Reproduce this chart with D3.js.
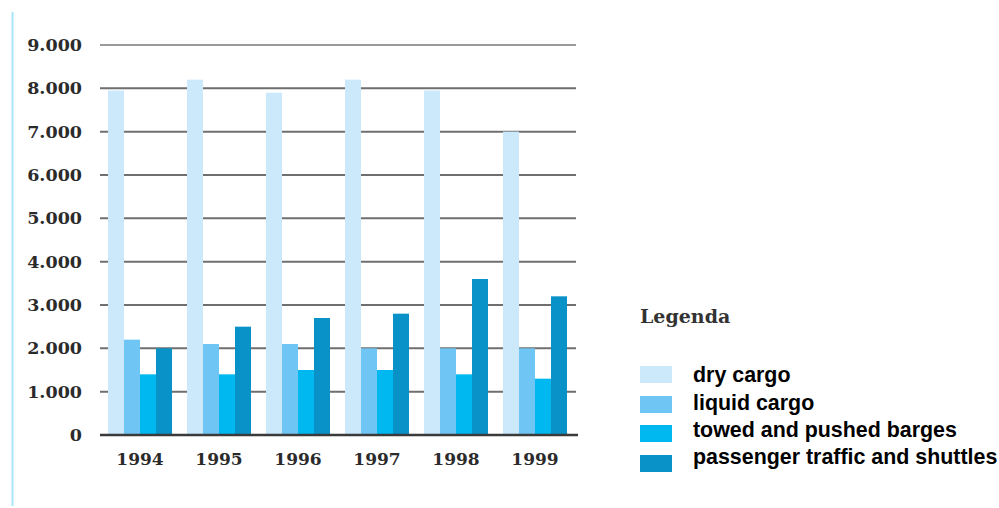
<!DOCTYPE html>
<html>
<head>
<meta charset="utf-8">
<script src="https://cdn.jsdelivr.net/npm/d3@7/dist/d3.min.js"></script>
<style>
  html, body { margin: 0; padding: 0; background: #fff; }
  svg { display: block; }
</style>
</head>
<body>
<svg id="chart" width="999" height="508"></svg>
<script>
// Inland navigation fleet by vessel type, 1994–1999
const years = ["1994", "1995", "1996", "1997", "1998", "1999"];
const seriesNames = ["dry cargo", "liquid cargo", "towed and pushed barges", "passenger traffic and shuttles"];
const dryCargo = [7950, 8200, 7900, 8200, 7950, 7000];
const liquidCargo = [2200, 2100, 2100, 2000, 2000, 2000];
const towedBarges = [1400, 1400, 1500, 1500, 1400, 1300];
const passengerTraffic = [2000, 2500, 2700, 2800, 3600, 3200];
const yTicks = [0, 1000, 2000, 3000, 4000, 5000, 6000, 7000, 8000, 9000];
const colors = ["#cbe9fb", "#6fc6f4", "#00b8f0", "#0892c8"];

const seriesValues = [dryCargo, liquidCargo, towedBarges, passengerTraffic];
const rows = years.map((yr, i) => ({ year: yr, values: seriesValues.map(s => s[i]) }));

const svg = d3.select("#chart");

// thin cyan rule along the left edge
svg.append("line")
  .attr("x1", 12.5).attr("x2", 12.5)
  .attr("y1", 12).attr("y2", 506)
  .attr("stroke", "#a9e6f7").attr("stroke-width", 2);

const plot = { left: 100, right: 576, top: 45, bottom: 435 };

const y = d3.scaleLinear().domain([0, 9000]).range([plot.bottom, plot.top]);
const groupStep = 79, groupGap = 15;
const x0 = d3.scaleBand().domain(years)
  .range([plot.left + 8, plot.left + 8 + groupStep * years.length - groupGap])
  .paddingInner(groupGap / groupStep).paddingOuter(0).align(0);
const x1 = d3.scaleBand().domain(d3.range(4)).range([0, x0.bandwidth()]).padding(0);

const fmt = v => d3.format(",")(v).replace(/,/g, ".");

// gridlines
svg.append("g")
  .selectAll("line")
  .data(yTicks.filter(t => t > 0))
  .join("line")
  .attr("x1", plot.left).attr("x2", plot.right)
  .attr("y1", d => y(d)).attr("y2", d => y(d))
  .attr("stroke", d => d === 9000 ? "#9a9a9a" : "#6f6f6f").attr("stroke-width", 2);

// y tick labels
const yAxis = d3.axisLeft(y).tickValues(yTicks).tickFormat(fmt).tickSize(0).tickPadding(0);
const yg = svg.append("g").attr("transform", `translate(${plot.left - 18},0)`).call(yAxis);
yg.select(".domain").remove();
yg.selectAll("text")
  .attr("font-family", "'DejaVu Serif', 'Liberation Serif', serif")
  .attr("font-weight", "bold")
  .attr("font-size", 17.5)
  .attr("fill", "#2b2b2b");

// bars
svg.append("g")
  .selectAll("g")
  .data(rows)
  .join("g")
  .attr("transform", d => `translate(${x0(d.year)},0)`)
  .selectAll("rect")
  .data(d => d.values.map((v, i) => ({ v, i })))
  .join("rect")
  .attr("x", d => x1(d.i))
  .attr("width", x1.bandwidth())
  .attr("y", d => y(d.v))
  .attr("height", d => y(0) - y(d.v))
  .attr("fill", d => colors[d.i]);

// baseline
svg.append("line")
  .attr("x1", plot.left).attr("x2", plot.right + 2)
  .attr("y1", y(0)).attr("y2", y(0))
  .attr("stroke", "#3a3a3a").attr("stroke-width", 2.5);

// x labels
const xAxis = d3.axisBottom(x0).tickSize(0).tickPadding(0);
const xg = svg.append("g").attr("transform", `translate(0,${plot.bottom + 30})`).call(xAxis);
xg.select(".domain").remove();
xg.selectAll("text")
  .attr("dy", 0)
  .attr("font-family", "'DejaVu Serif', 'Liberation Serif', serif")
  .attr("font-weight", "bold")
  .attr("font-size", 17)
  .attr("fill", "#2b2b2b");

// legend
const legend = svg.append("g").attr("transform", "translate(640,0)");
legend.append("text")
  .attr("x", 0).attr("y", 323)
  .attr("font-family", "'DejaVu Serif', 'Liberation Serif', serif")
  .attr("font-weight", "bold")
  .attr("font-size", 19)
  .attr("fill", "#333")
  .text("Legenda");

const swatchY = [366, 396, 425, 455];
const labelY = [382, 410, 437, 464];
legend.selectAll("rect.swatch")
  .data(seriesNames)
  .join("rect")
  .attr("class", "swatch")
  .attr("x", 0).attr("y", (d, i) => swatchY[i])
  .attr("width", 32).attr("height", 17)
  .attr("fill", (d, i) => colors[i]);
legend.selectAll("text.label")
  .data(seriesNames)
  .join("text")
  .attr("class", "label")
  .attr("x", 53).attr("y", (d, i) => labelY[i])
  .attr("font-family", "'Liberation Sans', Arial, sans-serif")
  .attr("font-weight", "bold")
  .attr("font-size", 21.4)
  .attr("fill", "#000")
  .text(d => d);
</script>
</body>
</html>
